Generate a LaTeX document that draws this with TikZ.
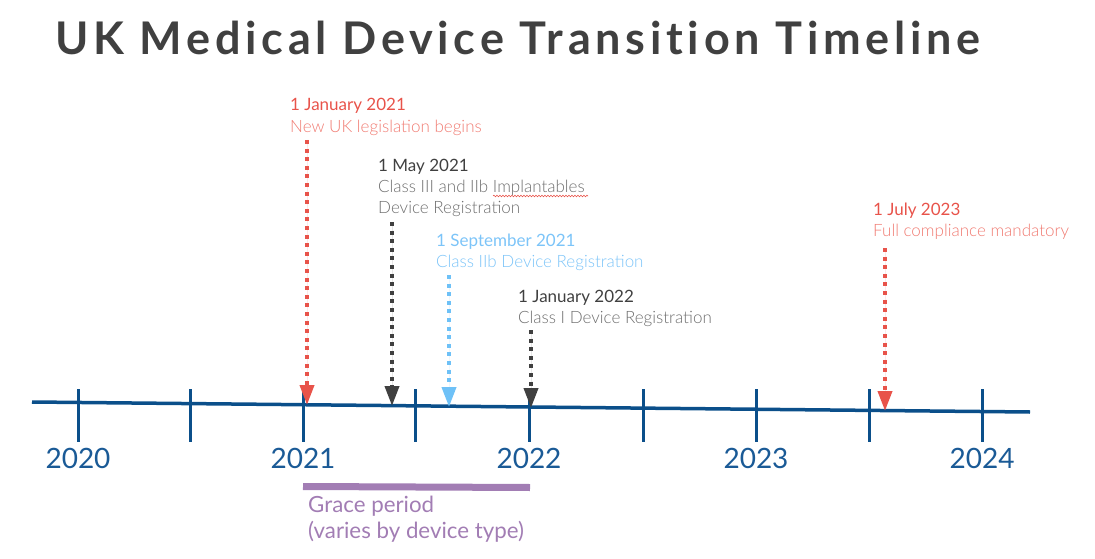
\documentclass[tikz,border=0pt]{standalone}
\usepackage{fontspec}
\setmainfont{Lato}
\newfontfamily\lightfont{Lato Light}
\newfontfamily\titlefont[LetterSpace=10.5,Ligatures={NoCommon,NoDiscretionary,NoRare}]{Lato}
\usetikzlibrary{arrows.meta,decorations.pathmorphing}
\definecolor{axisblue}{HTML}{0B4F8A}
\definecolor{yearblue}{HTML}{1A5A96}
\definecolor{mred}{HTML}{E8534A}
\definecolor{mredtxt}{HTML}{F07B72}
\definecolor{mdark}{HTML}{404040}
\definecolor{mgray}{HTML}{6E6E6E}
\definecolor{mblue}{HTML}{6EC1F7}
\definecolor{mbluetxt}{HTML}{7CC4F8}
\definecolor{mpurple}{HTML}{A27DB4}
\definecolor{titlegray}{HTML}{404040}
\tikzset{
  axisline/.style={draw=axisblue, line width=3.5pt},
  tickline/.style={draw=axisblue, line width=3pt},
  yearlabel/.style={anchor=base, inner sep=0pt, text=yearblue, font=\fontsize{28}{28}\selectfont},
  marker/.style={line width=3.8pt, dash pattern=on 4pt off 4.6pt, -{Triangle[width=14pt,length=20pt]}},
  datelabel/.style={anchor=base west, inner sep=0pt, align=left, font=\fontsize{17}{21}\selectfont},
}
\begin{document}
\begin{tikzpicture}[x=1pt,y=-1pt]
\useasboundingbox (0,0) rectangle (1095,559);
% title
\node[anchor=base west, inner sep=0pt, text=titlegray] (title) at (55,55)
  {\titlefont\bfseries\fontsize{45}{45}\selectfont UK Medical Device Transition Timeline};
% axis
\coordinate (axL) at (32,402);
\coordinate (axR) at (1030,412);
\draw[axisline] (axL) -- (axR);
% ticks
\foreach \x [count=\i] in {78,190,303,415,529,643,756,869,982} {
  \coordinate (t\i top) at (\x,389);
  \coordinate (t\i bot) at (\x,442);
  \draw[tickline] (t\i top) -- (t\i bot);
}
% years
\node[yearlabel] (y2020) at (78,468) {2020};
\node[yearlabel] (y2021) at (303,468) {2021};
\node[yearlabel] (y2022) at (529,468) {2022};
\node[yearlabel] (y2023) at (756,468) {2023};
\node[yearlabel] (y2024) at (982,468) {2024};
% grace period
\coordinate (gpL) at (303,486.5);
\coordinate (gpR) at (530,487.5);
\draw[draw=mpurple, line width=7pt] (gpL) -- (gpR);
\node[anchor=base west, inner sep=0pt, align=left, text=mpurple,
      font=\fontsize{22.3}{26}\selectfont] (gp) at (308,538)
  {Grace period\\(varies by device type)};
% labels (positioned at the baseline of their last line)
\node[datelabel, text=mred] (l1) at (290,132)
  {1 January 2021\\{\lightfont\color{mredtxt}New UK legislation begins}};
\node[datelabel, text=mdark] (l2) at (378,213)
  {1 May 2021\\{\lightfont\color{mgray}Class III and IIb Implantables}\\{\lightfont\color{mgray}Device Registration}};
\node[datelabel, text=mbluetxt] (l3) at (436,267)
  {1 September 2021\\{\lightfont Class IIb Device Registration}};
\node[datelabel, text=mdark] (l4) at (518,323)
  {1 January 2022\\{\lightfont\color{mgray}Class I Device Registration}};
\node[datelabel, text=mred] (l5) at (873,236)
  {1 July 2023\\{\lightfont\color{mredtxt}Full compliance mandatory}};
% spell-check squiggle
\coordinate (sqL) at (493,196);
\coordinate (sqR) at (588,196);
\draw[mred, line width=0.6pt, decorate, decoration={snake, amplitude=0.8pt, segment length=3pt}] (sqL) -- (sqR);
% markers
\coordinate (m1s) at (307,140); \coordinate (m1e) at (307,405);
\coordinate (m2s) at (392,222); \coordinate (m2e) at (392,406);
\coordinate (m3s) at (449,275); \coordinate (m3e) at (449,407);
\coordinate (m4s) at (531,330); \coordinate (m4e) at (531,408);
\coordinate (m5s) at (885,248); \coordinate (m5e) at (885,411);
\draw[marker, draw=mred, fill=mred] (m1s) -- (m1e);
\draw[marker, draw=mdark, fill=mdark] (m2s) -- (m2e);
\draw[marker, draw=mblue, fill=mblue] (m3s) -- (m3e);
\draw[marker, draw=mdark, fill=mdark] (m4s) -- (m4e);
\draw[marker, draw=mred, fill=mred] (m5s) -- (m5e);
\end{tikzpicture}
\end{document}
